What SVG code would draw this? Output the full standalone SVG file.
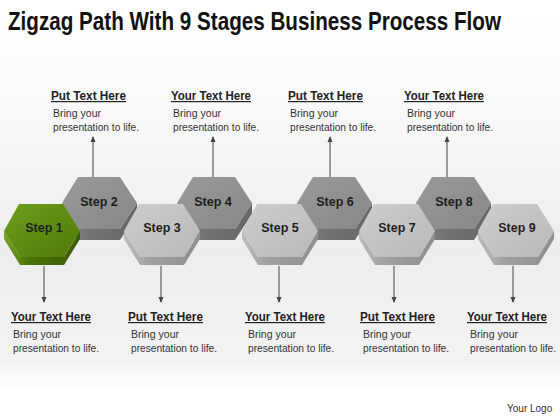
<svg xmlns="http://www.w3.org/2000/svg" width="560" height="420" viewBox="0 0 560 420">
<style>
.title{font-family:"Liberation Sans",Arial,sans-serif;font-weight:bold;font-size:21px;fill:#111}
.step{font-family:"Liberation Sans",Arial,sans-serif;font-weight:bold;font-size:12.5px;fill:#1e1e1e;text-anchor:middle}
.head{font-family:"Liberation Sans",Arial,sans-serif;font-weight:bold;font-size:12px;fill:#222;text-decoration:underline}
.body{font-family:"Liberation Sans",Arial,sans-serif;font-size:10px;fill:#333}
.logo{font-family:"Liberation Sans",Arial,sans-serif;font-size:10px;fill:#333}
.conn{stroke:#444;stroke-width:1;fill:none;marker-end:url(#arr)}
</style>
<defs>
<linearGradient id="bg" x1="0" y1="0" x2="0" y2="1">
<stop offset="0" stop-color="#ffffff"/>
<stop offset="0.2" stop-color="#fbfbfb"/>
<stop offset="0.6" stop-color="#ededed"/>
<stop offset="0.86" stop-color="#f3f3f3"/>
<stop offset="0.93" stop-color="#ffffff"/>
<stop offset="1" stop-color="#ffffff"/>
</linearGradient>
<linearGradient id="gTop" x1="0" y1="0" x2="1" y2="1">
<stop offset="0" stop-color="#6e9e1c"/>
<stop offset="1" stop-color="#4f7a08"/>
</linearGradient>
<linearGradient id="gSide" x1="0" y1="0" x2="1" y2="0">
<stop offset="0" stop-color="#76a02a"/>
<stop offset="0.35" stop-color="#4a7006"/>
<stop offset="1" stop-color="#3c5c04"/>
</linearGradient>
<linearGradient id="dTop" x1="0" y1="0" x2="1" y2="1">
<stop offset="0" stop-color="#9a9a9a"/>
<stop offset="1" stop-color="#878787"/>
</linearGradient>
<linearGradient id="dSide" x1="0" y1="0" x2="1" y2="0">
<stop offset="0" stop-color="#8a8a8a"/>
<stop offset="0.35" stop-color="#747474"/>
<stop offset="1" stop-color="#666666"/>
</linearGradient>
<linearGradient id="lTop" x1="0" y1="0" x2="1" y2="1">
<stop offset="0" stop-color="#cdcdcd"/>
<stop offset="1" stop-color="#b9b9b9"/>
</linearGradient>
<linearGradient id="lSide" x1="0" y1="0" x2="1" y2="0">
<stop offset="0" stop-color="#bdbdbd"/>
<stop offset="0.35" stop-color="#a0a0a0"/>
<stop offset="1" stop-color="#8e8e8e"/>
</linearGradient>
<marker id="arr" viewBox="0 0 6 6" refX="5" refY="3" markerWidth="6" markerHeight="6" orient="auto" markerUnits="userSpaceOnUse">
<path d="M0,0.5 L6,3 L0,5.5 Z" fill="#444"/>
</marker>
</defs>
<rect width="560" height="420" fill="url(#bg)"/>
<g id="title" transform="translate(8,30) scale(1,1.2)"><text class="title" x="0" y="0" textLength="493" lengthAdjust="spacingAndGlyphs">Zigzag Path With 9 Stages Business Process Flow</text></g>

<!-- upper hexes -->
<g id="step2">
<polygon points="62,203 78,229 120,229 137,203 137,214 120,240 78,240 62,214" fill="url(#dSide)"/>
<polygon points="78,177 120,177 137,203 120,229 78,229 62,203" fill="url(#dTop)"/>
<text class="step" x="99" y="206">Step 2</text>
</g>
<g id="step4">
<polygon points="177,203 193,229 235,229 252,203 252,214 235,240 193,240 177,214" fill="url(#dSide)"/>
<polygon points="193,177 235,177 252,203 235,229 193,229 177,203" fill="url(#dTop)"/>
<text class="step" x="213" y="206">Step 4</text>
</g>
<g id="step6">
<polygon points="297,203 313,229 355,229 372,203 372,214 355,240 313,240 297,214" fill="url(#dSide)"/>
<polygon points="313,177 355,177 372,203 355,229 313,229 297,203" fill="url(#dTop)"/>
<text class="step" x="335" y="206">Step 6</text>
</g>
<g id="step8">
<polygon points="416,203 432,229 474,229 491,203 491,214 474,240 432,240 416,214" fill="url(#dSide)"/>
<polygon points="432,177 474,177 491,203 474,229 432,229 416,203" fill="url(#dTop)"/>
<text class="step" x="454" y="206">Step 8</text>
</g>

<!-- lower hexes -->
<g id="step1">
<polygon points="4,231 20,257 64,257 80,231 80,239 64,265 20,265 4,239" fill="url(#gSide)"/>
<polygon points="19,204 63,204 80,231 64,257 20,257 4,231" fill="url(#gTop)"/>
<text class="step" x="44" y="232">Step 1</text>
</g>
<g id="step3">
<polygon points="124,231 140,257 184,257 200,231 200,239 184,265 140,265 124,239" fill="url(#lSide)"/>
<polygon points="139,204 183,204 200,231 184,257 140,257 124,231" fill="url(#lTop)"/>
<text class="step" x="162" y="232">Step 3</text>
</g>
<g id="step5">
<polygon points="242,231 258,257 302,257 318,231 318,239 302,265 258,265 242,239" fill="url(#lSide)"/>
<polygon points="257,204 301,204 318,231 302,257 258,257 242,231" fill="url(#lTop)"/>
<text class="step" x="280" y="232">Step 5</text>
</g>
<g id="step7">
<polygon points="359,231 375,257 419,257 435,231 435,239 419,265 375,265 359,239" fill="url(#lSide)"/>
<polygon points="374,204 418,204 435,231 419,257 375,257 359,231" fill="url(#lTop)"/>
<text class="step" x="397" y="232">Step 7</text>
</g>
<g id="step9">
<polygon points="478,231 494,257 538,257 554,231 554,239 538,265 494,265 478,239" fill="url(#lSide)"/>
<polygon points="493,204 537,204 554,231 538,257 494,257 478,231" fill="url(#lTop)"/>
<text class="step" x="517" y="232">Step 9</text>
</g>

<g id="connectors">
<line class="conn" x1="93" y1="177" x2="93" y2="137"/>
<line class="conn" x1="213" y1="177" x2="213" y2="137"/>
<line class="conn" x1="330" y1="177" x2="330" y2="137"/>
<line class="conn" x1="447" y1="177" x2="447" y2="137"/>
<line class="conn" x1="44" y1="266" x2="44" y2="302"/>
<line class="conn" x1="161" y1="266" x2="161" y2="302"/>
<line class="conn" x1="279" y1="266" x2="279" y2="302"/>
<line class="conn" x1="394" y1="266" x2="394" y2="302"/>
<line class="conn" x1="513" y1="266" x2="513" y2="302"/>
</g>

<g id="label-top-1">
<text class="head" x="51" y="100" textLength="75" lengthAdjust="spacingAndGlyphs">Put Text Here</text>
<text class="body" x="53" y="117" textLength="48" lengthAdjust="spacingAndGlyphs">Bring your</text>
<text class="body" x="53" y="131" textLength="86" lengthAdjust="spacingAndGlyphs">presentation to life.</text>
</g>
<g id="label-top-2">
<text class="head" x="171" y="100" textLength="80" lengthAdjust="spacingAndGlyphs">Your Text Here</text>
<text class="body" x="173" y="117" textLength="48" lengthAdjust="spacingAndGlyphs">Bring your</text>
<text class="body" x="173" y="131" textLength="86" lengthAdjust="spacingAndGlyphs">presentation to life.</text>
</g>
<g id="label-top-3">
<text class="head" x="288" y="100" textLength="75" lengthAdjust="spacingAndGlyphs">Put Text Here</text>
<text class="body" x="290" y="117" textLength="48" lengthAdjust="spacingAndGlyphs">Bring your</text>
<text class="body" x="290" y="131" textLength="86" lengthAdjust="spacingAndGlyphs">presentation to life.</text>
</g>
<g id="label-top-4">
<text class="head" x="404" y="100" textLength="80" lengthAdjust="spacingAndGlyphs">Your Text Here</text>
<text class="body" x="407" y="117" textLength="48" lengthAdjust="spacingAndGlyphs">Bring your</text>
<text class="body" x="407" y="131" textLength="86" lengthAdjust="spacingAndGlyphs">presentation to life.</text>
</g>

<g id="label-bottom-1">
<text class="head" x="11" y="321" textLength="80" lengthAdjust="spacingAndGlyphs">Your Text Here</text>
<text class="body" x="13" y="338" textLength="48" lengthAdjust="spacingAndGlyphs">Bring your</text>
<text class="body" x="13" y="352" textLength="86" lengthAdjust="spacingAndGlyphs">presentation to life.</text>
</g>
<g id="label-bottom-2">
<text class="head" x="128" y="321" textLength="75" lengthAdjust="spacingAndGlyphs">Put Text Here</text>
<text class="body" x="131" y="338" textLength="48" lengthAdjust="spacingAndGlyphs">Bring your</text>
<text class="body" x="131" y="352" textLength="86" lengthAdjust="spacingAndGlyphs">presentation to life.</text>
</g>
<g id="label-bottom-3">
<text class="head" x="245" y="321" textLength="80" lengthAdjust="spacingAndGlyphs">Your Text Here</text>
<text class="body" x="248" y="338" textLength="48" lengthAdjust="spacingAndGlyphs">Bring your</text>
<text class="body" x="248" y="352" textLength="86" lengthAdjust="spacingAndGlyphs">presentation to life.</text>
</g>
<g id="label-bottom-4">
<text class="head" x="360" y="321" textLength="75" lengthAdjust="spacingAndGlyphs">Put Text Here</text>
<text class="body" x="363" y="338" textLength="48" lengthAdjust="spacingAndGlyphs">Bring your</text>
<text class="body" x="363" y="352" textLength="86" lengthAdjust="spacingAndGlyphs">presentation to life.</text>
</g>
<g id="label-bottom-5">
<text class="head" x="467" y="321" textLength="80" lengthAdjust="spacingAndGlyphs">Your Text Here</text>
<text class="body" x="470" y="338" textLength="48" lengthAdjust="spacingAndGlyphs">Bring your</text>
<text class="body" x="470" y="352" textLength="86" lengthAdjust="spacingAndGlyphs">presentation to life.</text>
</g>

<g id="logo"><text class="logo" x="507" y="412">Your Logo</text></g>
</svg>
